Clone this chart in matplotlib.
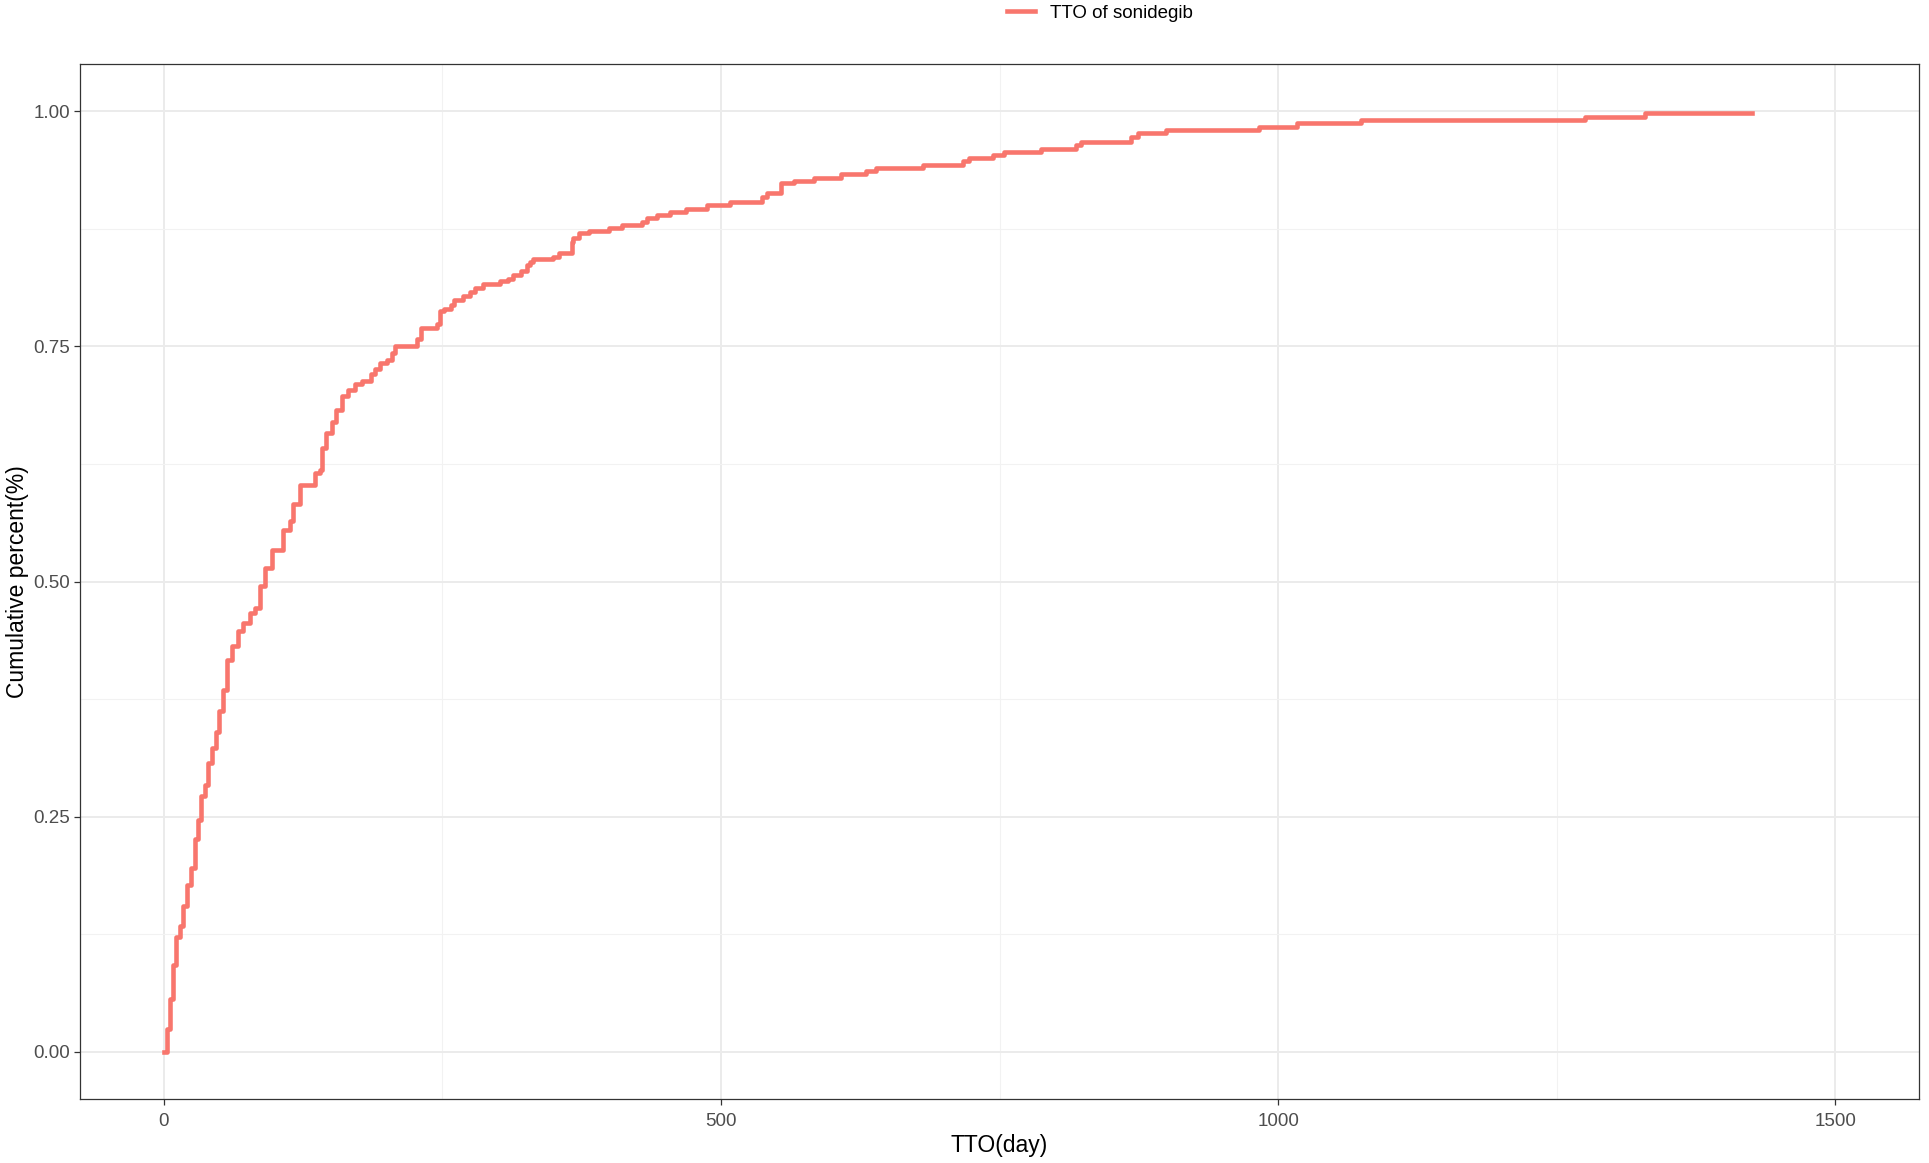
import numpy as np
import pandas as pd
import matplotlib
matplotlib.use("Agg")
import matplotlib.pyplot as plt
from matplotlib.ticker import MultipleLocator

# step points of the cumulative curve (day, cumulative share)
tto_day = [0, 2.8, 5.7, 8.7, 11, 14.7, 17.7, 20.7, 25, 28, 31, 34, 37, 40, 43,
           47, 50, 53, 56.6, 61, 67, 71.5, 77.5, 82, 86.4, 91, 97, 107, 113,
           116, 122, 136, 140, 142, 146, 151, 155, 160, 165.6, 171.6, 177.6,
           186, 189.5, 194, 200, 204.5, 207.5, 227, 231, 245, 248, 252, 258,
           261, 269, 275, 279, 287, 302, 309, 313.5, 321, 326, 328.5, 331.5,
           349, 355, 366, 367, 373, 382, 400, 411, 429, 434, 443, 454, 469,
           488, 508, 537, 541, 554, 566, 584, 608, 630, 639, 681, 717, 723,
           744, 754, 787, 819, 823, 868, 874, 899, 983, 1017, 1074, 1275,
           1329, 1425]
cum_pct = [0.0, 0.024, 0.056, 0.092, 0.122, 0.134, 0.155, 0.177, 0.196, 0.226,
           0.247, 0.272, 0.284, 0.307, 0.323, 0.340, 0.362, 0.385, 0.417,
           0.431, 0.447, 0.456, 0.467, 0.472, 0.495, 0.514, 0.534, 0.555,
           0.564, 0.582, 0.603, 0.615, 0.619, 0.642, 0.658, 0.670, 0.682,
           0.697, 0.704, 0.710, 0.713, 0.721, 0.726, 0.732, 0.735, 0.743,
           0.750, 0.758, 0.769, 0.774, 0.787, 0.790, 0.794, 0.799, 0.803,
           0.808, 0.812, 0.816, 0.819, 0.822, 0.826, 0.830, 0.836, 0.840,
           0.843, 0.845, 0.849, 0.861, 0.865, 0.870, 0.873, 0.876, 0.879,
           0.882, 0.886, 0.889, 0.893, 0.896, 0.900, 0.903, 0.909, 0.913,
           0.923, 0.926, 0.929, 0.933, 0.936, 0.940, 0.943, 0.947, 0.950,
           0.953, 0.956, 0.960, 0.964, 0.967, 0.972, 0.977, 0.980, 0.983,
           0.987, 0.990, 0.994, 0.998, 0.998]
series_name = "TTO of sonidegib"

plt.rcParams['font.family'] = ['Liberation Sans', 'DejaVu Sans']

W, H = 1929, 1163
fig = plt.figure(figsize=(W / 100, H / 100), dpi=100)
ax = fig.add_axes([80 / W, 1 - 1099 / H, (1919 - 80) / W, (1099 - 64) / H])

ax.plot(tto_day, cum_pct, drawstyle="steps-post", color="#F8766D",
        linewidth=3.3, label=series_name)

ax.set_xlim(-75, 1575)
ax.set_ylim(-0.05, 1.05)
ax.xaxis.set_major_locator(MultipleLocator(500))
ax.xaxis.set_minor_locator(MultipleLocator(250))
ax.yaxis.set_major_locator(MultipleLocator(0.25))
ax.yaxis.set_minor_locator(MultipleLocator(0.125))
ax.yaxis.set_major_formatter(plt.FuncFormatter(lambda v, p: "%.2f" % v))

ax.grid(which="major", color="#EBEBEB", linewidth=1.4)
ax.grid(which="minor", color="#F2F2F2", linewidth=0.8)
ax.set_axisbelow(True)
for s in ax.spines.values():
    s.set_color("#333333")
    s.set_linewidth(0.9)

ax.tick_params(which="major", length=4, width=0.9, color="#333333",
               labelsize=13.5, labelcolor="#4D4D4D", pad=3)
ax.tick_params(axis="x", which="major", pad=6)
ax.tick_params(which="minor", length=0)

ax.set_xlabel("TTO(day)", fontsize=16.5, labelpad=3)
ax.set_ylabel("Cumulative percent(%)", fontsize=16.5, labelpad=3)

ax.legend(loc="center", bbox_to_anchor=(1100 / W, 1 - 13 / H),
          bbox_transform=fig.transFigure, frameon=False, fontsize=13.5,
          handlelength=1.5, handletextpad=0.8)

plt.savefig("out.png", dpi=100)
